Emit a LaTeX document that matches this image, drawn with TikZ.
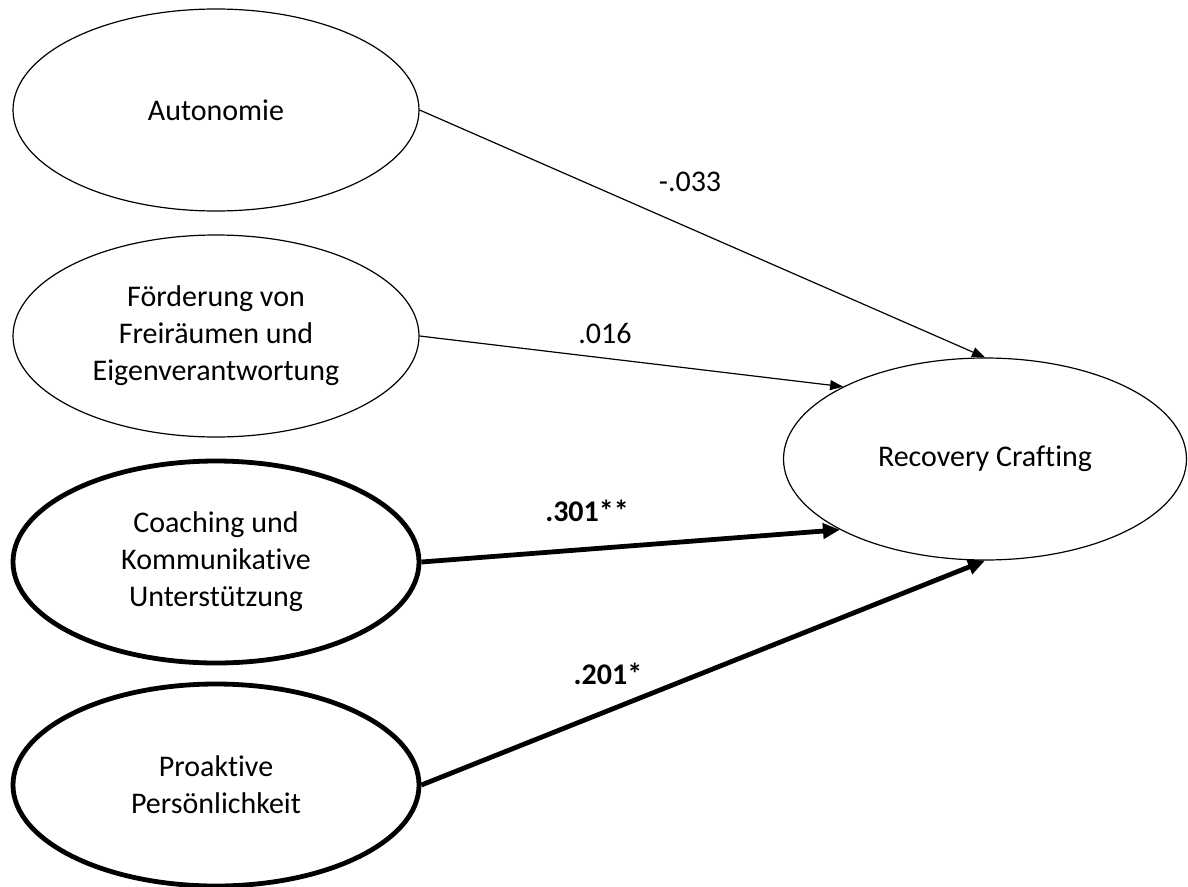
\documentclass[tikz,border=0pt]{standalone}
\usepackage{fontspec}
\setmainfont{Carlito}[Ligatures=NoCommon]
\usetikzlibrary{shapes.geometric,arrows.meta}

\tikzset{
  construct/.style={draw=black, ellipse, inner sep=0pt, align=center,
    minimum width=406pt, minimum height=202pt,
    font=\fontsize{30}{37}\selectfont},
  thinframe/.style={line width=1.2pt},
  thickframe/.style={line width=4.8pt},
  thinpath/.style={draw, line width=1.2pt, -{Triangle[length=13pt,width=10pt]}},
  thickpath/.style={draw, line width=4.8pt, -{Triangle[length=17pt,width=15pt]}},
  coef/.style={font=\fontsize{30}{37}\selectfont, inner sep=0pt},
  strongcoef/.style={coef, font=\fontsize{30}{37}\selectfont\bfseries}
}

\begin{document}
\begin{tikzpicture}[x=1pt, y=-1pt]
  \useasboundingbox (0,0) rectangle (1188,886);

  % predictor constructs
  \node[construct, thinframe]  (auto) at (216,110) {Autonomie};
  \node[construct, thinframe]  (frei) at (216,336) {Förderung von\\Freiräumen und\\Eigenverantwortung};
  \node[construct, thickframe] (coach) at (216,562) {Coaching und\\Kommunikative\\Unterstützung};
  \node[construct, thickframe] (proak) at (216,785) {Proaktive\\Persönlichkeit};

  % outcome construct
  \node[construct, thinframe, minimum width=403pt, minimum height=202pt] (rc) at (985,459) {Recovery Crafting};

  % path coefficients
  \draw[thinpath]  (auto.east)  -- (rc.north);
  \draw[thinpath]  (frei.east)  -- (rc.153.6);
  \draw[thickpath] (coach.east) -- (rc.206.4);
  \draw[thickpath] (proak.east) -- (rc.south);

  \node[coef]       (c1) at (690,182) {-.033};
  \node[coef]       (c2) at (605,333) {.016};
  \node[strongcoef] (c3) at (587,511) {.301**};
  \node[strongcoef] (c4) at (608,674) {.201*};
\end{tikzpicture}
\end{document}
